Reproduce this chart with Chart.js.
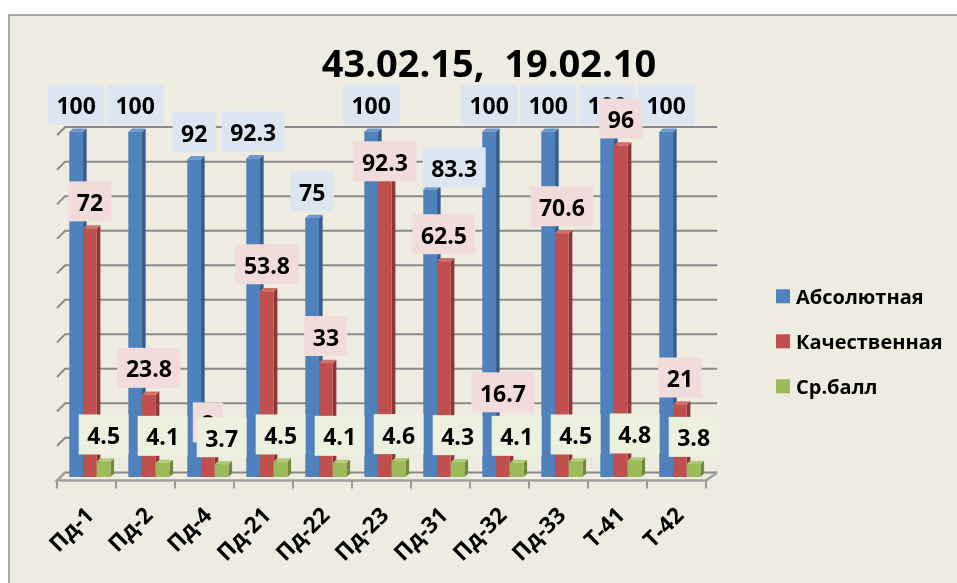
<!DOCTYPE html>
<html><head><meta charset="utf-8">
<script src="https://cdn.jsdelivr.net/npm/chart.js@4.4.1/dist/chart.umd.min.js"></script>
<style>html,body{margin:0;padding:0;background:#fff;}#wrap{width:957px;height:583px;position:relative;}</style>
</head><body><div id="wrap"><canvas id="c" width="957" height="583"></canvas></div>
<script>
const categories = ['Пд-1','Пд-2','Пд-4','Пд-21','Пд-22','Пд-23','Пд-31','Пд-32','Пд-33','Т-41','Т-42'];
const absoluteVals = [100,100,92,92.3,75,100,83.3,100,100,100,100];
const qualityVals = [72,23.8,8,53.8,33,92.3,62.5,16.7,70.6,96,21];
const avgVals = [4.5,4.1,3.7,4.5,4.1,4.6,4.3,4.1,4.5,4.8,3.8];
const seriesNames = ['Абсолютная','Качественная','Ср.балл'];
const gridValues = [0,10,20,30,40,50,60,70,80,90,100];
const titleText = '43.02.15,  19.02.10';

const FONT = '"Open Sans", Lato, sans-serif';
const colors = {
  front: ['#4f81bd','#c0504d','#9bbb59'],
  side:  ['#385d8a','#8c3836','#71893f'],
  top:   ['#6d97cc','#d0706d','#b0cc78'],
  box:   ['#dce6f2','#f2dcdb','#ebf1de']
};
// hand-moved labels in the original: dataset index -> data index -> pixel shift
const labelNudge = {1:{5:{dx:0, dy:30}}, 0:{6:{dx:24, dy:5}}};

const DEPTH = {fx:-3.4, fy:3.6, bx:5.1, by:-4.6};

const scenePlugin = {
  id:'scene',
  beforeDraw(chart){
    const ctx = chart.ctx, ca = chart.chartArea;
    const xs = chart.scales.x, ys = chart.scales.y;
    ctx.save();
    ctx.fillStyle = '#ffffff'; ctx.fillRect(0,0,957,583);
    ctx.fillStyle = '#eeece1'; ctx.fillRect(9,15,948,568);
    ctx.strokeStyle = '#8e8e8e'; ctx.lineWidth = 1.5;
    ctx.beginPath(); ctx.moveTo(9,583); ctx.lineTo(9,15); ctx.lineTo(957,15); ctx.stroke();

    const fl = ca.left + DEPTH.fx, fr = ca.right + DEPTH.fx;
    const backX = (x) => x + DEPTH.bx + 3 + 3*(x - fl)/(fr - fl);
    ctx.strokeStyle = '#8a8a8a'; ctx.lineWidth = 2;
    gridValues.forEach(v => {
      const y = ys.getPixelForValue(v);
      const yb = y + DEPTH.by, yf = y + DEPTH.fy;
      ctx.beginPath();
      ctx.moveTo(fl, yf); ctx.lineTo(backX(fl), yb); ctx.lineTo(backX(fr), yb);
      ctx.stroke();
    });
    const y0 = ys.getPixelForValue(0);
    ctx.strokeStyle = '#a0a0a0'; ctx.lineWidth = 2.5;
    ctx.beginPath();
    ctx.moveTo(backX(fl), y0 + DEPTH.by);
    ctx.lineTo(fl, y0 + DEPTH.fy); ctx.lineTo(fr, y0 + DEPTH.fy); ctx.lineTo(backX(fr), y0 + DEPTH.by);
    ctx.stroke();
    ctx.strokeStyle = '#9a9a9a'; ctx.lineWidth = 2;
    const n = categories.length, w = (ca.right - ca.left)/n;
    for (let i = 0; i <= n; i++) {
      const x = fl + i*w;
      ctx.beginPath(); ctx.moveTo(x, y0 + DEPTH.fy); ctx.lineTo(x, y0 + DEPTH.fy + 8); ctx.stroke();
    }
    ctx.fillStyle = '#000';
    ctx.font = 'bold 22.5px ' + FONT;
    ctx.textAlign = 'right'; ctx.textBaseline = 'middle';
    categories.forEach((c, i) => {
      const x = xs.getPixelForValue(i) + DEPTH.fx + 4;
      ctx.save(); ctx.translate(x, y0 + 35); ctx.rotate(-Math.PI/4);
      ctx.fillText(c, 0, 0); ctx.restore();
    });
    ctx.font = 'bold 38px ' + FONT; ctx.textAlign = 'center'; ctx.textBaseline = 'alphabetic';
    ctx.fillText(titleText, 489, 77);
    ctx.font = 'bold 20px ' + FONT; ctx.textAlign = 'left';
    chart.data.datasets.forEach((ds, i) => {
      const cy = 296.3 + i*45;
      ctx.fillStyle = colors.front[i]; ctx.fillRect(776, cy - 7, 14, 14);
      ctx.fillStyle = '#000'; ctx.fillText(ds.label, 796, cy + 7.5);
    });
    ctx.restore();
  },
  beforeDatasetsDraw(chart){
    const ctx = chart.ctx;
    const dx = 3.6, dy = -3.2;
    ctx.save();
    chart.data.datasets.forEach((ds, di) => {
      const meta = chart.getDatasetMeta(di);
      meta.data.forEach(el => {
        const p = el.getProps(['x','y','base','width'], true);
        const l = p.x - p.width/2, r = p.x + p.width/2;
        ctx.fillStyle = colors.side[di];
        ctx.beginPath();
        ctx.moveTo(r, p.y); ctx.lineTo(r + dx, p.y + dy); ctx.lineTo(r + dx, p.base + dy); ctx.lineTo(r, p.base);
        ctx.closePath(); ctx.fill();
        ctx.fillStyle = colors.top[di];
        ctx.beginPath();
        ctx.moveTo(l, p.y); ctx.lineTo(l + dx, p.y + dy); ctx.lineTo(r + dx, p.y + dy); ctx.lineTo(r, p.y);
        ctx.closePath(); ctx.fill();
        ctx.fillStyle = colors.front[di];
        ctx.fillRect(l, p.y, p.width, p.base - p.y);
      });
    });
    ctx.restore();
    return false;
  },
  afterDraw(chart){
    const ctx = chart.ctx;
    ctx.save();
    ctx.font = 'bold 23px ' + FONT;
    ctx.textAlign = 'center'; ctx.textBaseline = 'alphabetic';
    chart.data.datasets.forEach((ds, di) => {
      const meta = chart.getDatasetMeta(di);
      meta.data.forEach((el, i) => {
        const p = el.getProps(['x','y'], true);
        const txt = String(ds.data[i]);
        const tw = ctx.measureText(txt).width;
        const nud = (labelNudge[di] && labelNudge[di][i]) || {dx:0, dy:0};
        const top = p.y - 47 + nud.dy;
        const cx = p.x + nud.dx;
        const bw = tw + 17;
        ctx.fillStyle = colors.box[di];
        ctx.fillRect(cx - bw/2, top, bw, 40);
        ctx.fillStyle = '#000';
        ctx.fillText(txt, cx, top + 29.5);
      });
    });
    ctx.restore();
  }
};

const chart = new Chart(document.getElementById('c'), {
  type:'bar',
  data:{
    labels: categories,
    datasets:[
      {label: seriesNames[0], data: absoluteVals, backgroundColor: colors.front[0]},
      {label: seriesNames[1], data: qualityVals, backgroundColor: colors.front[1]},
      {label: seriesNames[2], data: avgVals, backgroundColor: colors.front[2]}
    ]
  },
  options:{
    responsive:false, animation:false, devicePixelRatio:1,
    layout:{padding:{left:60.4, right:247.6, top:131.7, bottom:106}},
    datasets:{bar:{categoryPercentage:0.698, barPercentage:1, borderWidth:0}},
    scales:{
      x:{display:false},
      y:{display:false, min:0, max:100}
    },
    plugins:{legend:{display:false}, title:{display:false}, tooltip:{enabled:false}}
  },
  plugins:[scenePlugin]
});
</script></body></html>
